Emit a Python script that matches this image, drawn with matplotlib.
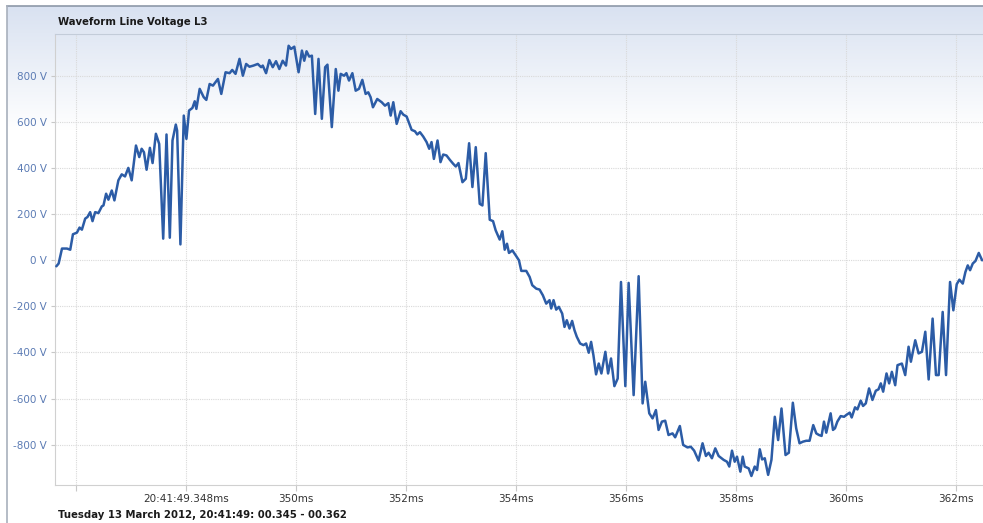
import numpy as np
import matplotlib.pyplot as plt
from matplotlib.lines import Line2D

# waveform samples (time in ms, voltage in V)
time_ms = [
    345.644, 345.686, 345.747, 345.837, 345.897, 345.946, 346.018, 346.066, 346.109, 346.169,
    346.211, 346.259, 346.302, 346.350, 346.410, 346.471, 346.501, 346.549, 346.591, 346.652,
    346.700, 346.772, 346.833, 346.893, 346.953, 347.014, 347.092, 347.152, 347.195, 347.237,
    347.285, 347.345, 347.394, 347.454, 347.514, 347.587, 347.647, 347.707, 347.756, 347.816,
    347.840, 347.900, 347.961, 348.009, 348.057, 348.118, 348.160, 348.190, 348.250, 348.323,
    348.371, 348.431, 348.492, 348.522, 348.582, 348.643, 348.721, 348.793, 348.842, 348.902,
    348.974, 349.035, 349.095, 349.155, 349.228, 349.306, 349.367, 349.397, 349.457, 349.517,
    349.578, 349.638, 349.698, 349.759, 349.819, 349.867, 349.910, 349.970, 350.048, 350.109,
    350.151, 350.193, 350.241, 350.290, 350.350, 350.410, 350.471, 350.531, 350.573, 350.652,
    350.724, 350.772, 350.814, 350.875, 350.917, 350.965, 351.026, 351.086, 351.146, 351.207,
    351.267, 351.315, 351.357, 351.400, 351.478, 351.559, 351.619, 351.680, 351.722, 351.770,
    351.831, 351.903, 351.952, 352.012, 352.103, 352.163, 352.205, 352.254, 352.314, 352.375,
    352.423, 352.465, 352.508, 352.574, 352.628, 352.677, 352.737, 352.798, 352.858, 352.906,
    352.955, 353.027, 353.088, 353.148, 353.208, 353.269, 353.341, 353.390, 353.450, 353.523,
    353.583, 353.631, 353.704, 353.752, 353.795, 353.837, 353.873, 353.934, 353.994, 354.054,
    354.097, 354.187, 354.248, 354.296, 354.369, 354.429, 354.489, 354.550, 354.610, 354.640,
    354.683, 354.731, 354.779, 354.840, 354.882, 354.924, 354.973, 355.021, 355.063, 355.106,
    355.166, 355.227, 355.275, 355.323, 355.366, 355.408, 355.456, 355.505, 355.553, 355.625,
    355.674, 355.728, 355.789, 355.849, 355.909, 355.988, 356.048, 356.139, 356.230, 356.302,
    356.350, 356.423, 356.483, 356.544, 356.592, 356.653, 356.713, 356.773, 356.846, 356.894,
    356.979, 357.039, 357.118, 357.178, 357.239, 357.319, 357.392, 357.453, 357.502, 357.562,
    357.623, 357.684, 357.775, 357.836, 357.878, 357.927, 357.976, 358.018, 358.079, 358.122,
    358.158, 358.231, 358.280, 358.340, 358.383, 358.432, 358.474, 358.523, 358.584, 358.644,
    358.705, 358.766, 358.827, 358.900, 358.960, 359.033, 359.094, 359.155, 359.216, 359.277,
    359.337, 359.404, 359.459, 359.508, 359.556, 359.599, 359.641, 359.720, 359.763, 359.799,
    359.842, 359.903, 359.964, 360.006, 360.067, 360.103, 360.164, 360.207, 360.267, 360.310,
    360.359, 360.419, 360.480, 360.541, 360.590, 360.632, 360.675, 360.736, 360.784, 360.833,
    360.894, 360.936, 361.015, 361.076, 361.137, 361.179, 361.258, 361.319, 361.380, 361.441,
    361.502, 361.574, 361.635, 361.684, 361.757, 361.818, 361.891, 361.951, 362.012, 362.061,
    362.122, 362.170, 362.213, 362.255, 362.304, 362.353, 362.413, 362.474,
]
volts = [
    -26, -14, 51, 51, 46, 113, 120, 142, 133, 181,
    188, 209, 170, 209, 205, 234, 238, 289, 263, 303,
    260, 347, 373, 364, 401, 347, 498, 448, 484, 469,
    393, 488, 422, 549, 505, 94, 546, 98, 520, 589,
    563, 69, 628, 527, 650, 661, 690, 657, 744, 708,
    696, 765, 758, 768, 787, 722, 816, 812, 826, 809,
    874, 801, 852, 840, 845, 852, 838, 845, 812, 869,
    838, 864, 830, 866, 845, 931, 917, 927, 816, 910,
    866, 907, 884, 888, 635, 874, 614, 838, 849, 578,
    830, 736, 809, 801, 812, 780, 812, 736, 744, 783,
    722, 729, 708, 664, 700, 686, 671, 682, 628, 686,
    592, 647, 632, 624, 566, 560, 546, 556, 537, 513,
    484, 513, 440, 520, 426, 459, 455, 436, 419, 407,
    422, 339, 354, 508, 318, 491, 245, 238, 465, 176,
    170, 130, 90, 126, 46, 72, 32, 43, 22, 0,
    -46, -46, -72, -108, -123, -127, -152, -188, -173, -209,
    -173, -214, -202, -231, -289, -260, -296, -263, -303, -332,
    -361, -368, -361, -401, -354, -412, -495, -448, -491, -397,
    -491, -426, -546, -513, -94, -546, -98, -585, -69, -621,
    -527, -664, -686, -650, -736, -700, -696, -758, -751, -768,
    -719, -801, -812, -809, -826, -869, -794, -849, -835, -859,
    -816, -849, -866, -874, -895, -826, -874, -852, -917, -852,
    -895, -903, -936, -895, -910, -820, -864, -859, -931, -866,
    -679, -780, -643, -845, -835, -618, -729, -794, -787, -783,
    -783, -715, -751, -758, -762, -700, -748, -664, -736, -729,
    -700, -676, -679, -671, -661, -682, -638, -647, -609, -632,
    -621, -556, -606, -566, -560, -534, -570, -491, -534, -484,
    -542, -455, -448, -498, -375, -440, -347, -404, -397, -310,
    -517, -253, -498, -498, -224, -498, -94, -217, -104, -84,
    -101, -51, -22, -43, -14, -3, 32, 0,
]

x_ticks = [346, 348, 350, 352, 354, 356, 358, 360, 362]
x_labels = ['', '20:41:49.348ms', '350ms', '352ms', '354ms', '356ms', '358ms', '360ms', '362ms']
y_ticks = [-800, -600, -400, -200, 0, 200, 400, 600, 800]
y_labels = [f'{v} V' for v in y_ticks]

title = 'Waveform Line Voltage L3'
footer = 'Tuesday 13 March 2012, 20:41:49: 00.345 - 00.362'

W, H = 983, 523
fig = plt.figure(figsize=(W / 100, H / 100), dpi=100)
fig.patch.set_facecolor('white')

# light blue gradient behind the chart, fading to white
bg = fig.add_axes([7 / W, 0, 1 - 7 / W, (H - 6) / H])
rows = np.arange(6, H)
t = np.clip((rows - 6) / (130 - 6), 0, 1)[:, None]
top = np.array([0.85, 0.885, 0.945])
grad = top * (1 - t) + np.array([1.0, 1.0, 1.0]) * t
bg.imshow(grad[:, None, :], aspect='auto', extent=[0, 1, 0, 1], interpolation='bilinear')
bg.set_axis_off()

# outer frame lines
fig.add_artist(Line2D([7 / W, 1], [1 - 6 / H, 1 - 6 / H], color='#8d98a8', lw=1.2))
fig.add_artist(Line2D([7 / W, 7 / W], [0, 1 - 6 / H], color='#a8b0bc', lw=1.2))

ax = fig.add_axes([55 / W, 1 - 485 / H, 1 - 55 / W, (485 - 34) / H])
ax.set_facecolor('none')
ax.plot(time_ms, volts, color='#2c5ca6', lw=1.8, solid_joinstyle='round',
        solid_capstyle='round', zorder=3)

ax.set_xlim(345.62, 362.49)
ax.set_ylim(-975, 982)
ax.set_xticks(x_ticks)
ax.set_xticklabels(x_labels)
ax.set_yticks(y_ticks)
ax.set_yticklabels(y_labels)

ax.grid(True, color='#d9d9d9', linestyle=(0, (1, 1)), linewidth=0.8)
ax.tick_params(axis='x', length=4.5, color='#c8c8c8', pad=2, labelsize=7.5, labelcolor='#333333')
ax.tick_params(axis='y', length=3, color='#c8c8c8', pad=3, labelsize=7.5, labelcolor='#5b7bb4')

for side in ['left', 'bottom']:
    ax.spines[side].set_color('#d0d0d0')
ax.spines['top'].set_color('#c3ccd9')
ax.spines['right'].set_visible(False)

fig.text(58 / W, 1 - 22 / H, title, weight='bold', size=7.3, color='#1a1a1a', va='center')
fig.text(58 / W, 1 - 515 / H, footer, weight='bold', size=7.3, color='#1a1a1a', va='center')

fig.savefig('out.png', dpi=100)
